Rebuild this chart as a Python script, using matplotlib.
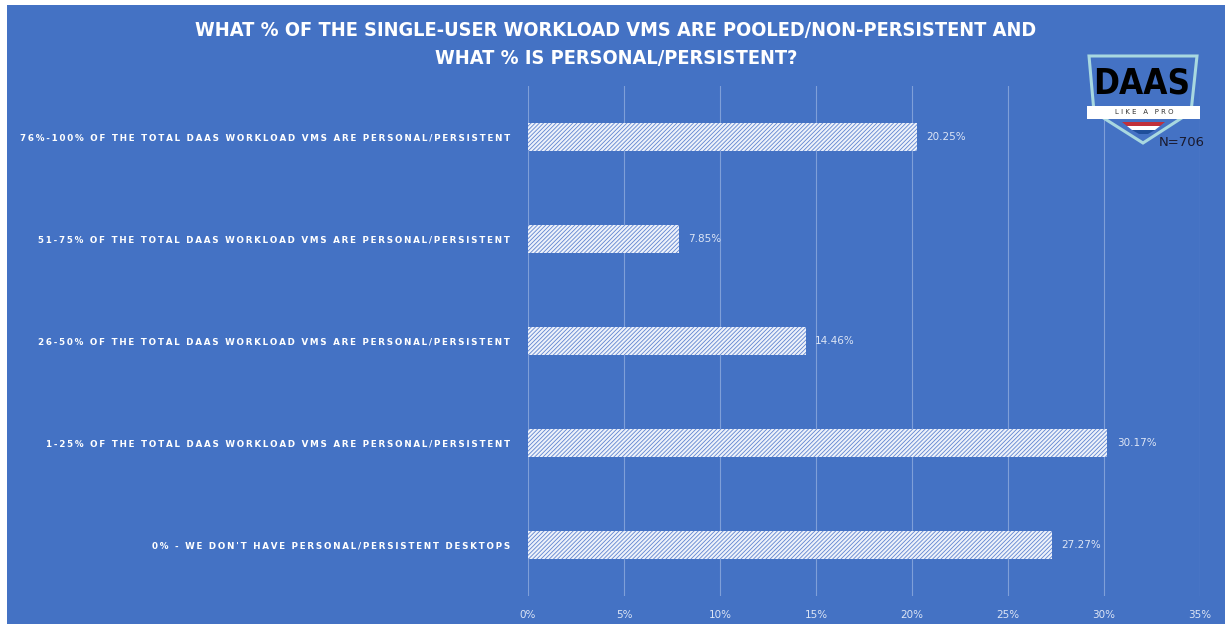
import matplotlib
matplotlib.use("Agg")
import matplotlib.pyplot as plt
from matplotlib.patches import Polygon, Rectangle
import numpy as np

categories = [
    "76%-100% OF THE TOTAL DAAS WORKLOAD VMS ARE PERSONAL/PERSISTENT",
    "51-75% OF THE TOTAL DAAS WORKLOAD VMS ARE PERSONAL/PERSISTENT",
    "26-50% OF THE TOTAL DAAS WORKLOAD VMS ARE PERSONAL/PERSISTENT",
    "1-25% OF THE TOTAL DAAS WORKLOAD VMS ARE PERSONAL/PERSISTENT",
    "0% - WE DON'T HAVE PERSONAL/PERSISTENT DESKTOPS",
]
values = [20.25, 7.85, 14.46, 30.17, 27.27]
xticks = [0, 5, 10, 15, 20, 25, 30, 35]
title = "WHAT % OF THE SINGLE-USER WORKLOAD VMS ARE POOLED/NON-PERSISTENT AND\nWHAT % IS PERSONAL/PERSISTENT?"

BG = "#4472C4"
W, H = 1225, 624
fig = plt.figure(figsize=(W / 100, H / 100), dpi=100, facecolor="white")
fig.patches.append(Rectangle((7 / W, 0), 1 - 7 / W, 1 - 5 / H, transform=fig.transFigure,
                             facecolor=BG, edgecolor="none", zorder=-10))

ax = fig.add_axes([528 / W, 1 - 596 / H, (1200 - 528) / W, (596 - 86) / H])
ax.set_facecolor("none")
n = len(categories)
y = np.arange(n)[::-1]
plt.rcParams["hatch.linewidth"] = 0.6
bars = ax.barh(y, values, height=0.27, color="#eef2fa", edgecolor="#5f84d0", linewidth=0,
               hatch="////////", zorder=3)
ax.set_xlim(0, 35)
ax.set_ylim(-0.5, n - 0.5)
ax.set_xticks(xticks)
ax.set_xticklabels([f"{t}%" for t in xticks], color="#dde5f5", fontsize=7.5)
ax.grid(axis="x", color="#7f9fd8", linewidth=0.8, zorder=0)
ax.tick_params(axis="x", length=0, pad=10)
ax.tick_params(axis="y", length=0, pad=13)
for s in ax.spines.values():
    s.set_visible(False)

def spaced(s):
    return "\u2009".join(s)

ax.set_yticks(y)
ax.set_yticklabels([spaced(c) for c in categories], color="white", fontsize=6.35,
                   fontweight="bold")
for yi, v in zip(y, values):
    ax.text(v + 0.5, yi, f"{v:.2f}%", va="center", ha="left", color="#dde5f5",
            fontsize=7.5, zorder=4)

fig.text(616 / W, 1 - 44 / H, title, ha="center", va="center", color="white",
         fontsize=14.3, fontweight="bold", fontstretch="condensed",
         family="DejaVu Sans", linespacing=1.6)

def fx(px):
    return px / W
def fy(py):
    return 1 - py / H
shield = [(1089, 56), (1197, 56), (1191, 112), (1143, 143), (1094, 112)]
fig.patches.append(Polygon([(fx(a), fy(b)) for a, b in shield], closed=True,
                           transform=fig.transFigure, facecolor=BG,
                           edgecolor="#a8d8e0", linewidth=2.2, zorder=5))
fig.text(fx(1142), fy(83), "DAAS", ha="center", va="center", fontsize=25,
         fontweight="bold", color="black", family="DejaVu Sans",
         fontstretch="condensed", zorder=6)
fig.patches.append(Rectangle((fx(1087), fy(119)), fx(1200) - fx(1087), (119 - 106) / H,
                             transform=fig.transFigure, facecolor="white",
                             edgecolor="none", zorder=6))
fig.text(fx(1144), fy(112.5), "L I K E   A   P R O", ha="center", va="center",
         fontsize=5, color="#333333", zorder=7)
fig.patches.append(Polygon([(fx(1122), fy(122)), (fx(1165), fy(122)), (fx(1160), fy(126)),
                            (fx(1127), fy(126))], closed=True, transform=fig.transFigure,
                           facecolor="#c0303a", edgecolor="none", zorder=6))
fig.patches.append(Polygon([(fx(1127), fy(126)), (fx(1160), fy(126)), (fx(1155), fy(130)),
                            (fx(1132), fy(130))], closed=True, transform=fig.transFigure,
                           facecolor="white", edgecolor="none", zorder=6))
fig.patches.append(Polygon([(fx(1132), fy(130)), (fx(1155), fy(130)), (fx(1148), fy(134)),
                            (fx(1139), fy(134))], closed=True, transform=fig.transFigure,
                           facecolor="#1f4e9a", edgecolor="none", zorder=6))
fig.text(fx(1182), fy(142), "N=706", ha="center", va="center", fontsize=9.5,
         color="#1a1a2e", zorder=7)

fig.savefig("out.png", dpi=100, facecolor="white")
